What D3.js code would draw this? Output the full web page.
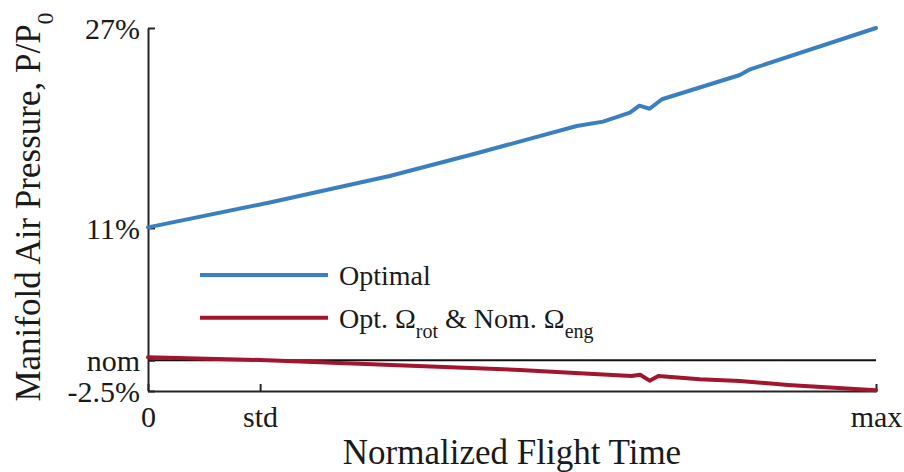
<!DOCTYPE html>
<html>
<head>
<meta charset="utf-8">
<script src="https://cdn.jsdelivr.net/npm/d3@7"></script>
<style>
  html, body { margin: 0; padding: 0; background: #fff; }
  svg { display: block; }
  text { font-family: "Liberation Serif", "Times New Roman", serif; fill: #1a1a1a; }
</style>
</head>
<body>
<svg id="chart" width="904" height="472"></svg>
<script>
// Normalized flight time (0 = start, 1 = max) and manifold pressure change (%)
const timeOptimal = [0, 0.172, 0.332, 0.4515, 0.589, 0.625, 0.662, 0.675, 0.689, 0.706, 0.813, 0.827, 1];
const pressOptimal = [10.80, 12.88, 14.97, 16.82, 19.04, 19.39, 20.12, 20.69, 20.44, 21.21, 23.18, 23.64, 27.0];

const timeNomEng = [0, 0.154, 0.511, 0.593, 0.664, 0.676, 0.689, 0.701, 0.758, 0.813, 0.879, 1];
const pressNomEng = [0.24, 0.02, -0.79, -1.06, -1.28, -1.18, -1.66, -1.28, -1.55, -1.69, -2.01, -2.44];

// Axis ticks
const xTickValues = [0, 0.154, 1];
const xTickLabels = ["0", "std", "max"];
const yTickValues = [-2.5, 0, 10.75, 27];
const yTickLabels = ["-2.5%", "nom", "11%", "27%"];
const nominalLevel = 0;

const seriesNames = ["Optimal", "Opt. Ω|rot| & Nom. Ω|eng|"];
const seriesColors = ["#3a7fc0", "#a3142f"];

const svg = d3.select("#chart");
const margin = { left: 148, right: 28, top: 28, bottom: 81 };
const W = 904, H = 472;

const x = d3.scaleLinear().domain([0, 1]).range([margin.left, W - margin.right]);
const y = d3.scaleLinear().domain([-2.5, 27]).range([H - margin.bottom, margin.top]);

const axisColor = "#262626";

// Nominal reference line
svg.append("line")
  .attr("x1", x(0)).attr("x2", x(1))
  .attr("y1", y(nominalLevel)).attr("y2", y(nominalLevel))
  .attr("stroke", "#111").attr("stroke-width", 2);

// Axes with inward ticks
const xAxis = d3.axisBottom(x)
  .tickValues(xTickValues)
  .tickFormat((d, i) => xTickLabels[i])
  .tickSizeInner(-7).tickSizeOuter(0).tickPadding(15);
const yAxis = d3.axisLeft(y)
  .tickValues(yTickValues)
  .tickFormat((d, i) => yTickLabels[i])
  .tickSizeInner(-7).tickSizeOuter(0).tickPadding(8);

const gx = svg.append("g").attr("transform", `translate(0,${y.range()[0]})`).call(xAxis);
const gy = svg.append("g").attr("transform", `translate(${x.range()[0]},0)`).call(yAxis);

[gx, gy].forEach(g => {
  g.select(".domain").attr("stroke", axisColor).attr("stroke-width", 2);
  g.selectAll(".tick line").attr("stroke", axisColor).attr("stroke-width", 2);
  g.selectAll(".tick text")
    .attr("font-family", "'Liberation Serif', 'Times New Roman', serif")
    .attr("font-size", 30).attr("fill", "#1a1a1a");
});
gy.selectAll(".tick text").attr("dy", "0.34em");

// Data lines
const line = d3.line().x(d => x(d[0])).y(d => y(d[1]));
const seriesData = [
  d3.zip(timeOptimal, pressOptimal),
  d3.zip(timeNomEng, pressNomEng)
];
seriesData.forEach((pts, i) => {
  svg.append("path")
    .datum(pts)
    .attr("d", line)
    .attr("fill", "none")
    .attr("stroke", seriesColors[i])
    .attr("stroke-width", 4)
    .attr("stroke-linejoin", "round")
    .attr("stroke-linecap", "round");
});

// Legend
function richText(sel, str, subSize) {
  // segments between |...| are subscripts
  const parts = str.split("|");
  parts.forEach((p, i) => {
    if (!p) return;
    const isSub = i % 2 === 1;
    const t = sel.append("tspan").text(p);
    if (isSub) {
      t.attr("font-size", subSize).attr("dy", 10);
    } else if (i > 0) {
      t.attr("dy", -10);
    }
  });
}
const legend = svg.append("g");
seriesNames.forEach((name, i) => {
  const ly = 275 + i * 42.7;
  legend.append("line")
    .attr("x1", 200).attr("x2", 328)
    .attr("y1", ly).attr("y2", ly)
    .attr("stroke", seriesColors[i]).attr("stroke-width", 4);
  const t = legend.append("text")
    .attr("x", 339).attr("y", ly + 10)
    .attr("font-size", 28);
  richText(t, name, 20);
});

// Axis titles
svg.append("text")
  .attr("x", (x.range()[0] + x.range()[1]) / 2)
  .attr("y", 464)
  .attr("text-anchor", "middle")
  .attr("font-size", 35)
  .text("Normalized Flight Time");

const yt = svg.append("text")
  .attr("transform", "translate(40,207) rotate(-90)")
  .attr("text-anchor", "middle")
  .attr("font-size", 35);
yt.append("tspan").text("Manifold Air Pressure, P/P");
yt.append("tspan").attr("font-size", 24).attr("dy", 13).text("0");
</script>
</body>
</html>
